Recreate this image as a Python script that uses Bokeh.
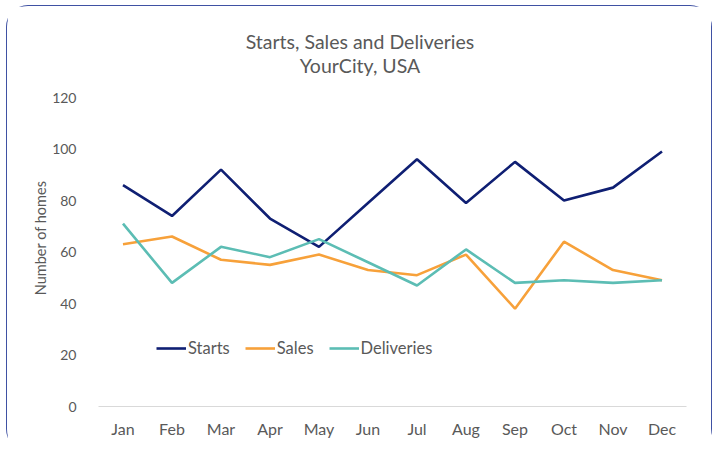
import math
from bokeh.plotting import figure
from bokeh.models import Legend, LegendItem, FixedTicker, LinearAxis, Range1d
from bokeh.embed import file_html
from bokeh.resources import INLINE

months = ["Jan", "Feb", "Mar", "Apr", "May", "Jun", "Jul", "Aug", "Sep", "Oct", "Nov", "Dec"]
starts = [86, 74, 92, 73, 62, 79, 96, 79, 95, 80, 85, 99]
sales = [63, 66, 57, 55, 59, 53, 51, 59, 38, 64, 53, 49]
deliveries = [71, 48, 62, 58, 65, 56, 47, 61, 48, 49, 48, 49]
y_ticks = [0, 20, 40, 60, 80, 100, 120]
title_lines = ["Starts, Sales and Deliveries", "YourCity, USA"]
y_title = "Number of homes"

FONT = "Lato"
GREY = "#595959"
FW, FH = 588, 309

# month slots: category i is centred at i + 0.5
xpos = [i + 0.5 for i in range(len(months))]

p = figure(x_range=(0, len(months)), y_range=(0, 120), output_backend="svg", toolbar_location=None,
           frame_width=FW, frame_height=FH,
           min_border_left=91, min_border_right=25, min_border_top=91, min_border_bottom=45)
p.styles = {"border": "1.5px solid #3f51a3", "border-bottom": "none",
            "border-radius": "22px", "transform": "translate(6px, 5px)"}
p.outline_line_color = None
p.background_fill_color = "white"
p.border_fill_color = "white"
p.xgrid.grid_line_color = None
p.ygrid.grid_line_color = None

r1 = p.line(xpos, starts, line_color="#0f1f73", line_width=2.6)
r2 = p.line(xpos, sales, line_color="#f7a13a", line_width=2.6)
r3 = p.line(xpos, deliveries, line_color="#5cbdb4", line_width=2.6)

p.yaxis.ticker = FixedTicker(ticks=y_ticks)
p.yaxis.axis_line_color = None
p.yaxis.major_tick_line_color = None
p.yaxis.minor_tick_line_color = None
p.yaxis.major_label_standoff = 16
p.yaxis.major_label_text_font = FONT
p.yaxis.major_label_text_font_size = "14px"
p.yaxis.major_label_text_color = GREY

p.xaxis.ticker = FixedTicker(ticks=xpos)
p.xaxis.major_label_overrides = {x: m for x, m in zip(xpos, months)}
p.xaxis.axis_line_color = "#d9d9d9"
p.xaxis.axis_line_width = 1
p.xaxis.major_tick_line_color = None
p.xaxis.minor_tick_line_color = None
p.xaxis.major_label_standoff = 6
p.xaxis.major_label_text_font = FONT
p.xaxis.major_label_text_font_size = "16px"
p.xaxis.major_label_text_color = GREY

# pixel ranges used only to position the title texts
p.extra_x_ranges = {"px": Range1d(0, FW)}
p.extra_y_ranges = {"px": Range1d(0, FH)}


def text_axis(txt, pos, size, standoff, **kw):
    return LinearAxis(ticker=FixedTicker(ticks=[pos]), major_label_overrides={pos: txt},
                      axis_line_color=None, major_tick_line_color=None, minor_tick_line_color=None,
                      major_label_standoff=standoff, major_label_text_font=FONT,
                      major_label_text_font_size=size, major_label_text_color=GREY, **kw)


title_x = 261.5
p.add_layout(text_axis(title_lines[1], title_x, "19.5px", 15, x_range_name="px"), "above")
p.add_layout(text_axis(title_lines[0], title_x, "19.5px", -8, x_range_name="px"), "above")
p.add_layout(text_axis(y_title, 226, "14.5px", 3, y_range_name="px",
                       major_label_orientation=math.pi / 2), "left")

legend = Legend(items=[LegendItem(label="Starts", renderers=[r1]),
                       LegendItem(label="Sales", renderers=[r2]),
                       LegendItem(label="Deliveries", renderers=[r3])],
                orientation="horizontal", location=(58, 48),
                padding=0, margin=0, spacing=15, label_standoff=2,
                glyph_width=30, glyph_height=20,
                border_line_alpha=0, background_fill_alpha=0,
                label_text_font=FONT, label_text_font_size="16.5px", label_text_color=GREY)
p.add_layout(legend, "center")

open("out.html", "w").write(file_html(p, INLINE))
